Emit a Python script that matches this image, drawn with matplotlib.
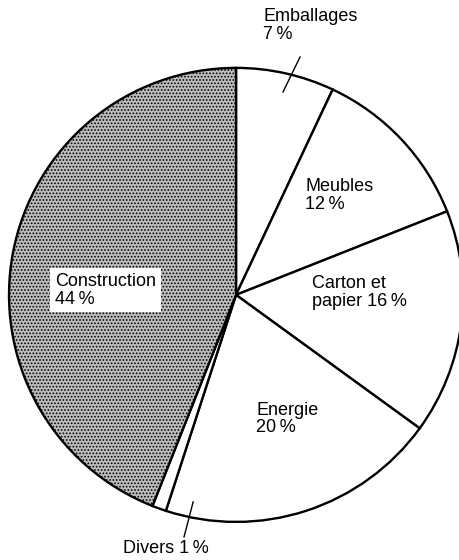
import numpy as np
import matplotlib.pyplot as plt

plt.rcParams['font.family'] = ['Liberation Sans', 'DejaVu Sans']
plt.rcParams['hatch.color'] = '#3a3a3a'
plt.rcParams['hatch.linewidth'] = 0.8

labels = ['Emballages\n7\u2009%', 'Meubles\n12\u2009%', 'Carton et\npapier 16\u2009%',
          'Energie\n20\u2009%', 'Divers 1\u2009%', 'Construction\n44\u2009%']
shares = [7, 12, 16, 20, 1, 44]

fig = plt.figure(figsize=(4.6, 5.6), dpi=100)
ax = fig.add_axes([0.0196, 0.0679, 0.987, 0.811])

wedges, _ = ax.pie(shares, startangle=90, counterclock=False, radius=1,
                   wedgeprops=dict(facecolor='white', edgecolor='black', linewidth=1.7))
wedges[-1].set_facecolor('#bdbdbd')
wedges[-1].set_hatch('.....')

ax.set_xlim(-1, 1)
ax.set_ylim(-1, 1)
ax.set_aspect('equal')
ax.axis('off')

# label positions (left/top corner) in axes data units
pos = [(0.119, 1.264), (0.304, 0.515), (0.335, 0.088), (0.088, -0.471), (-0.498, -1.079), (-0.797, 0.097)]
for lab, (x, y) in zip(labels, pos):
    box = None
    if lab.startswith('Construction'):
        box = dict(facecolor='white', edgecolor='none', pad=3.5)
    ax.text(x, y, lab, ha='left', va='top', fontsize=13, linespacing=1.05,
            clip_on=False, bbox=box)

# leader lines
ax.plot([0.282, 0.207], [1.048, 0.894], color='black', lw=1.0, clip_on=False)
ax.plot([-0.189, -0.229], [-0.912, -1.066], color='black', lw=1.0, clip_on=False)

fig.savefig('out.png', dpi=100)
